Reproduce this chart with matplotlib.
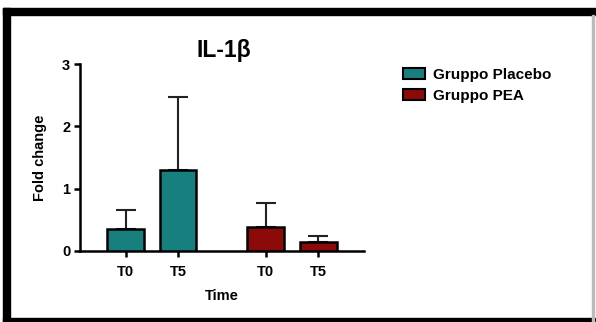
import matplotlib
matplotlib.use("Agg")
import matplotlib.pyplot as plt
from matplotlib.patches import Rectangle, Patch
import numpy as np

plt.rcParams['font.family'] = ['Liberation Sans', 'DejaVu Sans']

title = "IL-1β"
groups = ["Gruppo Placebo", "Gruppo PEA"]
time_labels = ["T0", "T5", "T0", "T5"]
placebo_means = [0.345, 1.30]
placebo_err = [0.32, 1.17]
pea_means = [0.39, 0.15]
pea_err = [0.375, 0.09]
colors = ["#17807f", "#8c0a0a"]

W, H = 596, 322
fig = plt.figure(figsize=(W / 100, H / 100), dpi=100)

def fx(px):
    return px / W

def fy(py):
    return 1 - py / H

# outer frame
fig.patches.append(Rectangle((fx(3), fy(15)), fx(596) - fx(3), fy(8) - fy(15),
                             transform=fig.transFigure, color="black", zorder=0))
fig.patches.append(Rectangle((fx(3), fy(322)), fx(10) - fx(3), fy(8) - fy(322),
                             transform=fig.transFigure, color="black", zorder=0))
fig.patches.append(Rectangle((fx(3), fy(322)), fx(596) - fx(3), fy(318) - fy(322),
                             transform=fig.transFigure, color="black", zorder=0))
fig.patches.append(Rectangle((fx(592), fy(322)), fx(594) - fx(592), fy(15) - fy(322),
                             transform=fig.transFigure, color="#bbbbbb", zorder=0))

ax = fig.add_axes([fx(80), fy(251), fx(364) - fx(80), fy(64) - fy(251)])

pos_placebo = np.array([0.0, 1.0])
pos_pea = np.array([2.667, 3.667])
bw = 0.70

ax.bar(pos_placebo, placebo_means, width=bw, color=colors[0], edgecolor="black",
       linewidth=1.8, zorder=3, label=groups[0])
ax.bar(pos_pea, pea_means, width=bw, color=colors[1], edgecolor="black",
       linewidth=1.8, zorder=3, label=groups[1])
ax.errorbar(pos_placebo, placebo_means, yerr=[np.zeros(2), placebo_err], fmt="none",
            ecolor="#222222", elinewidth=1.5, capsize=7, capthick=1.5, zorder=2)
ax.errorbar(pos_pea, pea_means, yerr=[np.zeros(2), pea_err], fmt="none",
            ecolor="#222222", elinewidth=1.5, capsize=7, capthick=1.5, zorder=2)

ax.set_xlim(-0.867, 4.54)
ax.set_ylim(0, 3)
ax.set_yticks([0, 1, 2, 3])
ax.set_xticks(np.concatenate([pos_placebo, pos_pea]))
ax.set_xticklabels(time_labels)
for s in ["top", "right"]:
    ax.spines[s].set_visible(False)
for s in ["left", "bottom"]:
    ax.spines[s].set_linewidth(1.8)
ax.tick_params(axis="both", width=1.8, length=4, labelsize=10.5, direction="out")
for lab in ax.get_xticklabels() + ax.get_yticklabels():
    lab.set_fontweight("bold")
ax.tick_params(axis="y", pad=3)
ax.tick_params(axis="x", pad=6)
ax.set_xlabel("Time", fontsize=10.5, fontweight="bold", labelpad=7)
ax.set_ylabel("Fold change", fontsize=10.5, fontweight="bold", labelpad=11)

fig.text(fx(224), fy(50), title, ha="center", va="center", fontsize=16.5, fontweight="bold")

handles = [Patch(facecolor=colors[0], edgecolor="black", linewidth=1.5),
           Patch(facecolor=colors[1], edgecolor="black", linewidth=1.5)]
fig.legend(handles, groups, loc="upper left", bbox_to_anchor=(fx(403), fy(68)),
           frameon=False, borderpad=0, borderaxespad=0, handlelength=1.45,
           handleheight=0.7, handletextpad=0.5, labelspacing=0.45,
           prop={"weight": "bold", "size": 11})

fig.savefig("out.png", dpi=100)
